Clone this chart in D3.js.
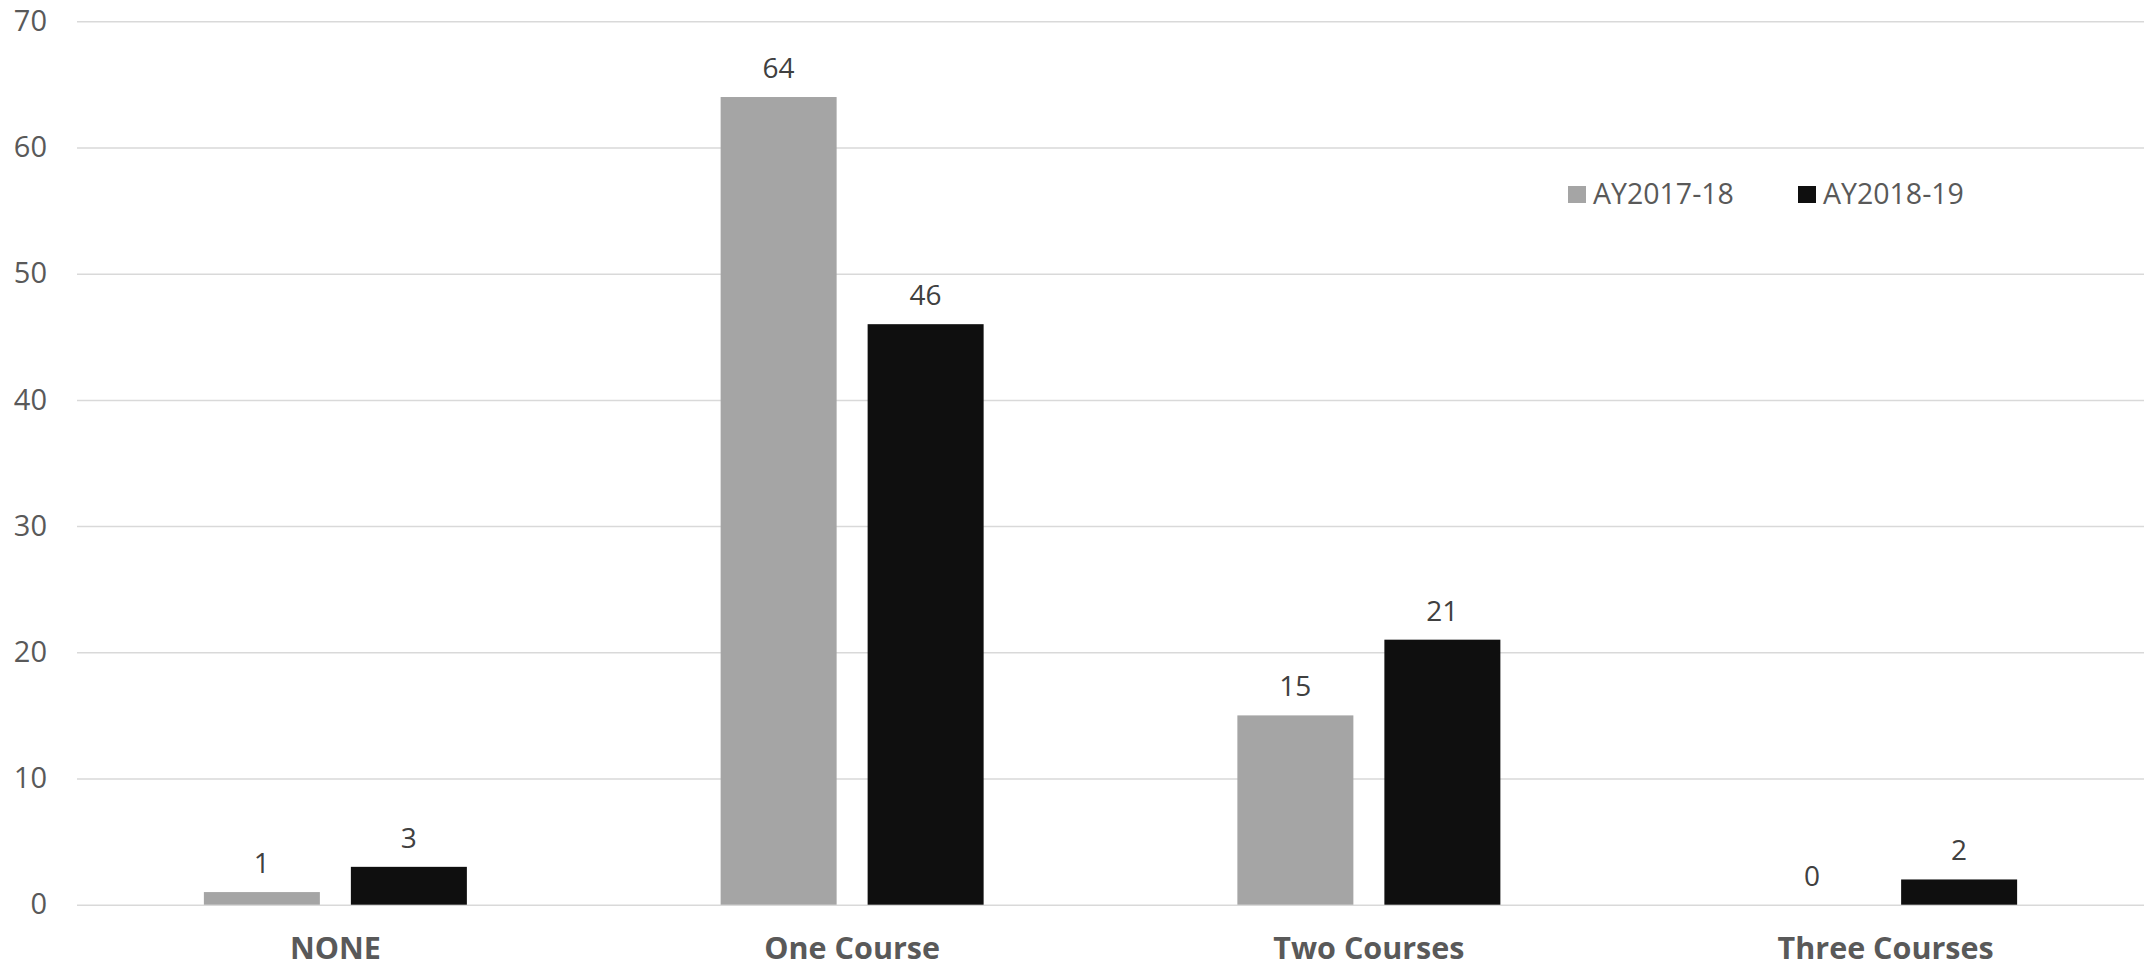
<!DOCTYPE html>
<html>
<head>
<meta charset="utf-8">
<script src="https://cdn.jsdelivr.net/npm/d3@7"></script>
<style>
  html, body { margin: 0; padding: 0; background: #fff; }
  svg { display: block; }
  text { font-family: "Open Sans", "Noto Sans", sans-serif; }
</style>
</head>
<body>
<svg id="chart" width="2156" height="968"></svg>
<script>
const categories = ["NONE", "One Course", "Two Courses", "Three Courses"];
const seriesNames = ["AY2017-18", "AY2018-19"];
const valuesAY2017 = [1, 64, 15, 0];
const valuesAY2018 = [3, 46, 21, 2];
const yTicks = [0, 10, 20, 30, 40, 50, 60, 70];
const colors = ["#A5A5A5", "#0F0F0F"];

(function () {
const seriesValues = [valuesAY2017, valuesAY2018];
const plotLeft = 77, plotRight = 2144, plotTop = 21.3, plotBottom = 904.7;

const svg = d3.select("#chart");

const y = d3.scaleLinear().domain([0, 70]).range([plotBottom, plotTop]);
const p0 = 1 - 263 / ((plotRight - plotLeft) / categories.length);
const x0 = d3.scaleBand().domain(categories).range([plotLeft, plotRight])
  .paddingInner(p0).paddingOuter(p0 / 2);
const x1 = d3.scaleBand().domain(seriesNames).range([0, x0.bandwidth()])
  .paddingInner(31 / 147).paddingOuter(0);

// gridlines
const grid = svg.append("g").attr("transform", `translate(${plotLeft},0)`)
  .call(d3.axisLeft(y).tickValues(yTicks).tickSize(-(plotRight - plotLeft)).tickFormat(""));
grid.select(".domain").remove();
grid.selectAll(".tick line").attr("stroke", "#D9D9D9").attr("stroke-width", 1.5);

// y tick labels
const yAxis = svg.append("g").attr("transform", `translate(${plotLeft},0)`)
  .call(d3.axisLeft(y).tickValues(yTicks).tickSize(0).tickPadding(30));
yAxis.select(".domain").remove();
yAxis.selectAll("text")
  .attr("fill", "#595959")
  .style("font-size", "29px")
  .style("font-family", "'Open Sans', sans-serif");

// bars
const groups = svg.append("g").selectAll("g")
  .data(categories)
  .join("g")
  .attr("transform", d => `translate(${x0(d)},0)`);

groups.selectAll("rect")
  .data((c, i) => seriesNames.map((s, j) => ({ s, j, v: seriesValues[j][i] })))
  .join("rect")
  .attr("x", d => x1(d.s))
  .attr("width", x1.bandwidth())
  .attr("y", d => y(d.v))
  .attr("height", d => y(0) - y(d.v))
  .attr("fill", d => colors[d.j]);

groups.selectAll("text.lbl")
  .data((c, i) => seriesNames.map((s, j) => ({ s, j, v: seriesValues[j][i] })))
  .join("text")
  .attr("class", "lbl")
  .attr("x", d => x1(d.s) + x1.bandwidth() / 2)
  .attr("y", d => y(d.v) - 19)
  .attr("text-anchor", "middle")
  .attr("fill", "#404040")
  .style("font-size", "28px")
  .text(d => d.v);

// x axis labels
const xAxis = svg.append("g").attr("transform", `translate(0,${plotBottom})`)
  .call(d3.axisBottom(x0).tickSize(0).tickPadding(0));
xAxis.select(".domain").remove();
xAxis.selectAll("text")
  .attr("dy", null)
  .attr("y", 54)
  .attr("fill", "#595959")
  .style("font-size", "30.5px")
  .style("font-weight", "bold")
  .style("font-family", "'Open Sans', sans-serif");

// legend
const legendX = [1568, 1798];
const legend = svg.append("g");
seriesNames.forEach((s, j) => {
  legend.append("rect")
    .attr("x", legendX[j]).attr("y", 186)
    .attr("width", 18).attr("height", 17)
    .attr("fill", colors[j]);
  legend.append("text")
    .attr("x", legendX[j] + 25).attr("y", 204)
    .attr("fill", "#595959")
    .style("font-size", "28.5px")
    .text(s);
});
})();
</script>
</body>
</html>
